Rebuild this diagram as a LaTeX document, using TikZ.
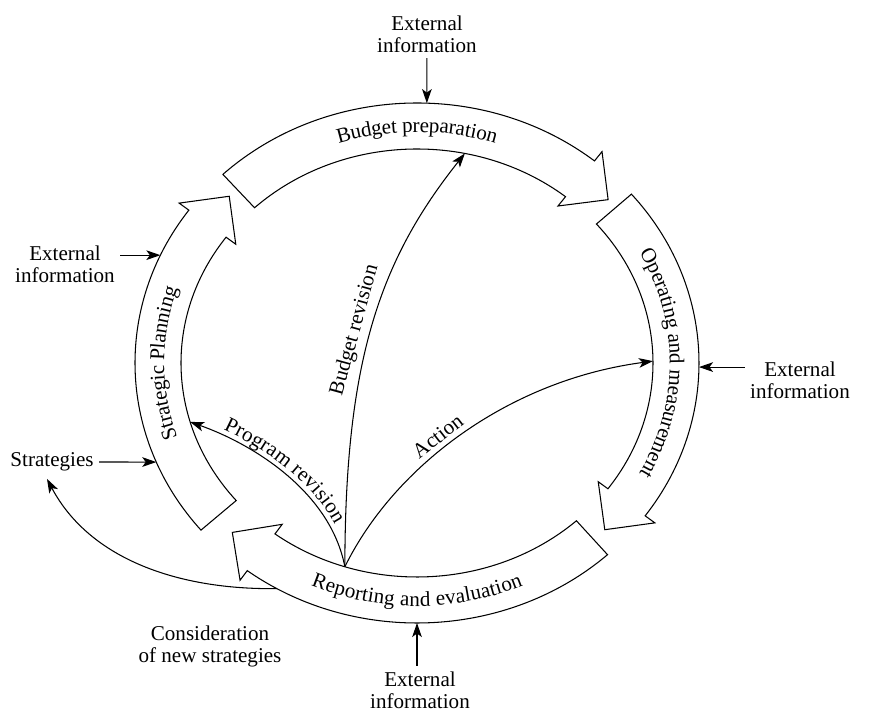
\documentclass[tikz,border=0pt]{standalone}
\usepackage{fontspec}
\setmainfont{Liberation Serif}
\usetikzlibrary{arrows.meta,calc,decorations.text}
% block arrow along the ellipse: #1 tail angle, #2 angle of arrow-head base
\newcommand\BlkArrow[2]{%
  \pgfmathsetmacro\BAtx{2.59*sin(#2)}%
  \pgfmathsetmacro\BAty{-2.37*cos(#2)}%
  \pgfmathsetmacro\BAang{atan2(\BAty,\BAtx)}%
  \pgfmathsetmacro\BAx{259*cos(#2)+35*cos(\BAang)}%
  \pgfmathsetmacro\BAy{237*sin(#2)+35*sin(\BAang)}%
  \draw[blk] (#1:282 and 260) arc[start angle=#1, end angle=#2, x radius=282, y radius=260]
    -- (#2:294 and 272) -- (\BAx,\BAy) -- (#2:224 and 202) -- (#2:236 and 214)
    arc[start angle=#2, end angle=#1, x radius=236, y radius=214] -- cycle;}
\tikzset{
  blk/.style={draw=black, line width=0.6pt, fill=white, line join=miter},
  conn/.style={draw=black, line width=0.6pt, -{Stealth[length=8pt,width=5.5pt,inset=2pt]}},
  lbl/.style={align=center, inner sep=3pt, font=\fontsize{12}{12.5}\selectfont},
  bandtext/.style={decorate, decoration={text along path, text={#1}, text align=center, raise=-3.5pt}}
}
\begin{document}
\begin{tikzpicture}[x=0.02cm, y=0.02cm]
\fontsize{12}{12.5}\selectfont
\useasboundingbox (0,0) rectangle (872,712);
\coordinate (C) at (417,349);
\begin{scope}[shift={(C)}]
  \BlkArrow{133.5}{51}
  \BlkArrow{40.5}{-36}
  \BlkArrow{-47.5}{-127}
  \BlkArrow{220}{144}
  \path[bandtext={Budget preparation}] (135:259 and 237) arc[start angle=135, end angle=45, x radius=259, y radius=237];
  \path[bandtext={Operating and measurement}] (42:259 and 237) arc[start angle=42, end angle=-42, x radius=259, y radius=237];
  \path[bandtext={Reporting and evaluation}] (-130:259 and 237) arc[start angle=-130, end angle=-50, x radius=259, y radius=237];
  \path[bandtext={Strategic Planning}] (220:259 and 237) arc[start angle=220, end angle=140, x radius=259, y radius=237];
  \coordinate (a1) at (88:282 and 260);
  \coordinate (a2) at (155.5:282 and 260);
  \coordinate (a3) at (-0.9:282 and 260);
  \coordinate (a4) at (-90:282 and 260);
  \coordinate (a5) at (202.4:282 and 260);
  \coordinate (cs) at (-119.8:282 and 260);
  \coordinate (src) at (-107.8:236 and 214);
  \coordinate (tp) at (196:236 and 214);
  \coordinate (tb) at (78.3:236 and 214);
  \coordinate (ta) at (0.5:236 and 214);
\end{scope}

% outside labels
\node[lbl] (e1) at (427,678) {External\\information};
\node[lbl] (e2) at (65,448) {External\\information};
\node[lbl] (e3) at (800,332) {External\\information};
\node[lbl] (e4) at (420,22) {External\\information};
\node[lbl] (st) at (52,250) {Strategies};
\node[lbl] (cn) at (210,66) {Consideration\\of new strategies};

\draw[conn] (e1) -- (a1);
\draw[conn] (e2.east |- a2) -- (a2);
\draw[conn] (e3.west |- a3) -- (a3);
\draw[conn] (a4 |- e4.north) -- (a4);
\draw[conn] (st.east) -- (a5);
\draw[conn] (cs) .. controls (180,122) and (90,152) .. ($(st.south)+(-5,-2)$);

% internal connectors
\draw[conn] (src) .. controls (330,222) and (250,269) .. (tp);
\path[decorate, decoration={text along path, text={Program revision}, text align={left indent=19pt}, raise=3pt}]
  (tp) .. controls (250,269) and (330,222) .. (src);
\draw[conn] (src) .. controls (345,352) and (380,452) .. (tb)
  node[lbl, pos=0.47, sloped, above] (lb) {Budget revision};
\draw[conn] (src) .. controls (395,247) and (510,332) .. (ta)
  node[lbl, pos=0.44, sloped, above] (la) {Action};
\end{tikzpicture}
\end{document}
